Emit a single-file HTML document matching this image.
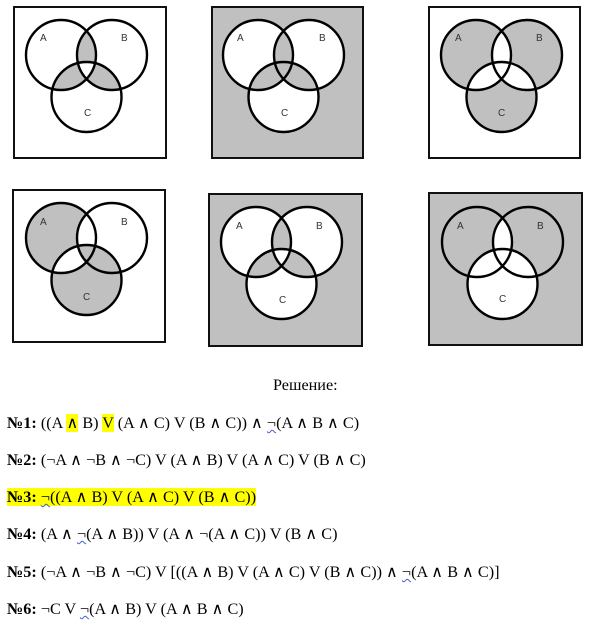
<!DOCTYPE html>
<html><head><meta charset="utf-8"><style>
html,body{margin:0;padding:0;background:#fff;}
body{width:600px;height:623px;position:relative;overflow:hidden;}
svg{position:absolute;left:0;top:0;}
.t{position:absolute;left:7px;font-family:"Liberation Serif",serif;font-size:16.2px;white-space:nowrap;color:#000;line-height:20px;}
.t b{font-weight:bold;}
.hl{background:#ffff00;}
.w{text-decoration:underline wavy #4060d0;text-decoration-thickness:1px;}
</style></head><body>
<svg width="600" height="623" xmlns="http://www.w3.org/2000/svg">

<!-- D1 -->
<rect x="14" y="7" width="152" height="151" fill="#fff"/>
<g transform="translate(61,55)">
<circle cx="0" cy="0" r="35" fill="#fff"/><circle cx="51" cy="0" r="35" fill="#fff"/><circle cx="25.5" cy="42" r="35" fill="#fff"/>
<path d="M25.5,-23.97 A35,35 0 0 1 25.5,23.97 A35,35 0 0 1 25.5,-23.97Z" fill="#c0c0c0"/>
<path d="M34.06,8.06 A35,35 0 0 1 -8.56,33.94 A35,35 0 0 1 34.06,8.06Z" fill="#c0c0c0"/>
<path d="M59.56,33.94 A35,35 0 0 1 16.94,8.06 A35,35 0 0 1 59.56,33.94Z" fill="#c0c0c0"/>
<path d="M16.94,8.06 A35,35 0 0 1 34.06,8.06 A35,35 0 0 1 25.5,23.97 A35,35 0 0 1 16.94,8.06Z" fill="#fff"/>
<g fill="none" stroke="#000" stroke-width="2.4"><circle cx="0" cy="0" r="35"/><circle cx="51" cy="0" r="35"/><circle cx="25.5" cy="42" r="35"/></g>
</g>
<rect x="14" y="7" width="152" height="151" fill="none" stroke="#111" stroke-width="2"/>

<!-- D2 -->
<rect x="212" y="7" width="151" height="151" fill="#c0c0c0"/>
<g transform="translate(258,55)">
<circle cx="0" cy="0" r="35" fill="#fff"/><circle cx="51" cy="0" r="35" fill="#fff"/><circle cx="25.5" cy="42" r="35" fill="#fff"/>
<path d="M25.5,-23.97 A35,35 0 0 1 25.5,23.97 A35,35 0 0 1 25.5,-23.97Z" fill="#c0c0c0"/>
<path d="M34.06,8.06 A35,35 0 0 1 -8.56,33.94 A35,35 0 0 1 34.06,8.06Z" fill="#c0c0c0"/>
<path d="M59.56,33.94 A35,35 0 0 1 16.94,8.06 A35,35 0 0 1 59.56,33.94Z" fill="#c0c0c0"/>
<g fill="none" stroke="#000" stroke-width="2.4"><circle cx="0" cy="0" r="35"/><circle cx="51" cy="0" r="35"/><circle cx="25.5" cy="42" r="35"/></g>
</g>
<rect x="212" y="7" width="151" height="151" fill="none" stroke="#111" stroke-width="2"/>

<!-- D3 -->
<rect x="429" y="7" width="151" height="151" fill="#fff"/>
<g transform="translate(476,55)">
<circle cx="0" cy="0" r="35" fill="#c0c0c0"/><circle cx="51" cy="0" r="35" fill="#c0c0c0"/><circle cx="25.5" cy="42" r="35" fill="#c0c0c0"/>
<path d="M25.5,-23.97 A35,35 0 0 1 25.5,23.97 A35,35 0 0 1 25.5,-23.97Z" fill="#fff"/>
<path d="M34.06,8.06 A35,35 0 0 1 -8.56,33.94 A35,35 0 0 1 34.06,8.06Z" fill="#fff"/>
<path d="M59.56,33.94 A35,35 0 0 1 16.94,8.06 A35,35 0 0 1 59.56,33.94Z" fill="#fff"/>
<g fill="none" stroke="#000" stroke-width="2.4"><circle cx="0" cy="0" r="35"/><circle cx="51" cy="0" r="35"/><circle cx="25.5" cy="42" r="35"/></g>
</g>
<rect x="429" y="7" width="151" height="151" fill="none" stroke="#111" stroke-width="2"/>

<!-- D4 -->
<rect x="13" y="190" width="152" height="152" fill="#fff"/>
<g transform="translate(61,238)">
<circle cx="0" cy="0" r="35" fill="#c0c0c0"/><circle cx="51" cy="0" r="35" fill="#fff"/><circle cx="25.5" cy="42" r="35" fill="#c0c0c0"/>
<path d="M25.5,-23.97 A35,35 0 0 1 25.5,23.97 A35,35 0 0 1 25.5,-23.97Z" fill="#fff"/>
<path d="M34.06,8.06 A35,35 0 0 1 -8.56,33.94 A35,35 0 0 1 34.06,8.06Z" fill="#fff"/>
<path d="M59.56,33.94 A35,35 0 0 1 16.94,8.06 A35,35 0 0 1 59.56,33.94Z" fill="#c0c0c0"/>
<path d="M16.94,8.06 A35,35 0 0 1 34.06,8.06 A35,35 0 0 1 25.5,23.97 A35,35 0 0 1 16.94,8.06Z" fill="#c0c0c0"/>
<g fill="none" stroke="#000" stroke-width="2.4"><circle cx="0" cy="0" r="35"/><circle cx="51" cy="0" r="35"/><circle cx="25.5" cy="42" r="35"/></g>
</g>
<rect x="13" y="190" width="152" height="152" fill="none" stroke="#111" stroke-width="2"/>

<!-- D5 -->
<rect x="209" y="194" width="153" height="152" fill="#c0c0c0"/>
<g transform="translate(256,242)">
<circle cx="0" cy="0" r="35" fill="#fff"/><circle cx="51" cy="0" r="35" fill="#fff"/><circle cx="25.5" cy="42" r="35" fill="#fff"/>
<path d="M25.5,-23.97 A35,35 0 0 1 25.5,23.97 A35,35 0 0 1 25.5,-23.97Z" fill="#c0c0c0"/>
<path d="M34.06,8.06 A35,35 0 0 1 -8.56,33.94 A35,35 0 0 1 34.06,8.06Z" fill="#c0c0c0"/>
<path d="M59.56,33.94 A35,35 0 0 1 16.94,8.06 A35,35 0 0 1 59.56,33.94Z" fill="#c0c0c0"/>
<path d="M16.94,8.06 A35,35 0 0 1 34.06,8.06 A35,35 0 0 1 25.5,23.97 A35,35 0 0 1 16.94,8.06Z" fill="#fff"/>
<g fill="none" stroke="#000" stroke-width="2.4"><circle cx="0" cy="0" r="35"/><circle cx="51" cy="0" r="35"/><circle cx="25.5" cy="42" r="35"/></g>
</g>
<rect x="209" y="194" width="153" height="152" fill="none" stroke="#111" stroke-width="2"/>

<!-- D6 -->
<rect x="429" y="193" width="153" height="152" fill="#c0c0c0"/>
<g transform="translate(477,242)">
<circle cx="0" cy="0" r="35" fill="#c0c0c0"/><circle cx="51" cy="0" r="35" fill="#c0c0c0"/>
<path d="M25.5,-23.97 A35,35 0 0 1 25.5,23.97 A35,35 0 0 1 25.5,-23.97Z" fill="#fff"/>
<circle cx="25.5" cy="42" r="35" fill="#fff"/>
<g fill="none" stroke="#000" stroke-width="2.4"><circle cx="0" cy="0" r="35"/><circle cx="51" cy="0" r="35"/><circle cx="25.5" cy="42" r="35"/></g>
</g>
<rect x="429" y="193" width="153" height="152" fill="none" stroke="#111" stroke-width="2"/>

<g font-family="Liberation Sans, sans-serif" font-size="10" fill="#333">
<text x="40" y="41">A</text><text x="121" y="41">B</text><text x="84" y="116">C</text>
<text x="237" y="41">A</text><text x="319" y="41">B</text><text x="281" y="116">C</text>
<text x="455" y="41">A</text><text x="536" y="41">B</text><text x="498" y="116">C</text>
<text x="40" y="225">A</text><text x="121" y="225">B</text><text x="83" y="300">C</text>
<text x="236" y="229">A</text><text x="316" y="229">B</text><text x="279" y="303">C</text>
<text x="457" y="229">A</text><text x="537" y="229">B</text><text x="499" y="302">C</text>
</g>
</svg>
<div class="t" style="top:375px;left:273px;">Решение:</div>
<div class="t" style="top:413px;"><b>№1:</b> ((A <span class="hl">∧</span> B) <span class="hl">V</span> (A ∧ C) V (B ∧ C)) ∧ <span class="w">¬</span>(A ∧ B ∧ C)</div>
<div class="t" style="top:450px;"><b>№2:</b> (¬A ∧ ¬B ∧ ¬C) V (A ∧ B) V (A ∧ C) V (B ∧ C)</div>
<div class="t" style="top:487px;"><span class="hl"><b>№3:</b> <span class="w">¬</span>((A ∧ B) V (A ∧ C) V (B ∧ C))</span></div>
<div class="t" style="top:524px;"><b>№4:</b> (A ∧ <span class="w">¬</span>(A ∧ B)) V (A ∧ ¬(A ∧ C)) V (B ∧ C)</div>
<div class="t" style="top:562px;"><b>№5:</b> (¬A ∧ ¬B ∧ ¬C) V [((A ∧ B) V (A ∧ C) V (B ∧ C)) ∧ <span class="w">¬</span>(A ∧ B ∧ C)]</div>
<div class="t" style="top:599px;"><b>№6:</b> ¬C V <span class="w">¬</span>(A ∧ B) V (A ∧ B ∧ C)</div>
</body></html>
